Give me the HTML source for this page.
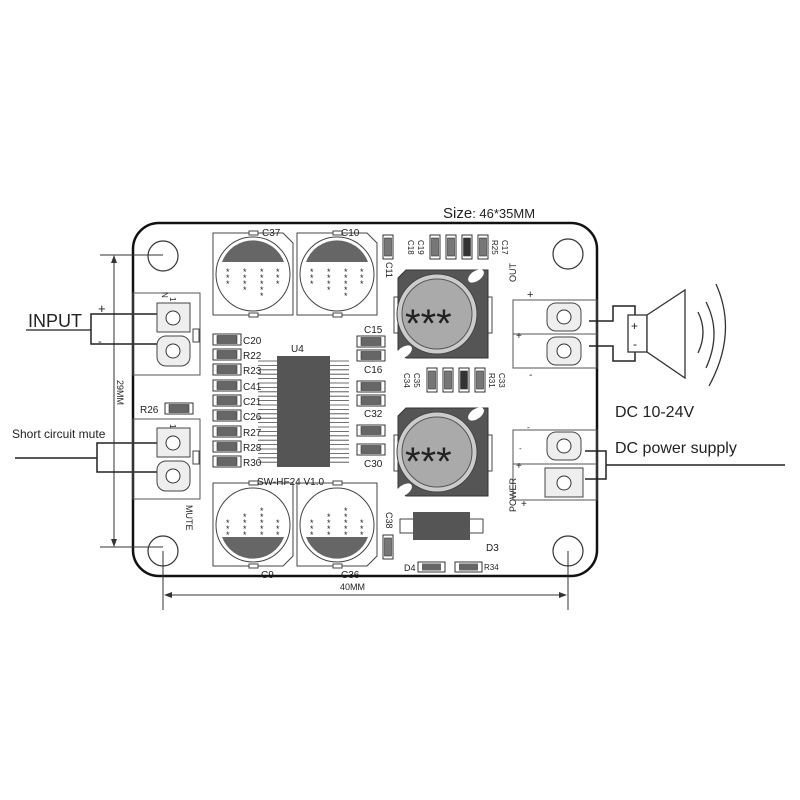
<!DOCTYPE html>
<html><head><meta charset="utf-8"><style>
html,body{margin:0;padding:0;background:#fff}
svg{display:block}
text{font-family:"Liberation Sans",sans-serif;fill:#222}
</style></head><body>
<svg width="800" height="800" viewBox="0 0 800 800" xmlns="http://www.w3.org/2000/svg">
<defs>
<g id="rh"><rect x="0" y="0" width="28" height="11" fill="#fff" stroke="#333" stroke-width="1"/><rect x="4" y="1.5" width="20" height="8" fill="#666" stroke="#333" stroke-width="0.6"/></g>
<g id="rv"><rect x="0" y="0" width="10" height="24" fill="#fff" stroke="#333" stroke-width="1"/><rect x="1.5" y="3" width="7" height="18" fill="#777" stroke="#333" stroke-width="0.6"/></g>
</defs>

<text x="443" y="218" font-size="15">Size<tspan font-size="13">:  46*35MM</tspan></text>

<rect x="133" y="223" width="464" height="353" rx="26" fill="#fff" stroke="#111" stroke-width="2.5"/>

<g fill="none" stroke="#333" stroke-width="1.2">
<circle cx="163" cy="256" r="15"/><circle cx="568" cy="254" r="15"/>
<circle cx="163" cy="551" r="15"/><circle cx="568" cy="551" r="15"/>
</g>

<g stroke="#333" stroke-width="1" fill="none">
<line x1="100" y1="255" x2="163" y2="255"/><line x1="100" y1="547" x2="163" y2="547"/>
<line x1="114" y1="258" x2="114" y2="544"/>
<line x1="163" y1="551" x2="163" y2="610"/><line x1="568" y1="551" x2="568" y2="610"/>
<line x1="166" y1="595" x2="565" y2="595"/>
</g>
<polygon points="114,255 111,263 117,263" fill="#333"/><polygon points="114,547 111,539 117,539" fill="#333"/>
<polygon points="164,595 172,592 172,598" fill="#333"/><polygon points="567,595 559,592 559,598" fill="#333"/>
<text x="0" y="0" font-size="9" transform="translate(117,380) rotate(90)">29MM</text>
<text x="340" y="590" font-size="9">40MM</text>

<text x="28" y="327" font-size="18">INPUT</text>
<line x1="26" y1="330" x2="91" y2="330" stroke="#222" stroke-width="1.3"/>
<g stroke="#222" stroke-width="1.5" fill="none">
<polyline points="172,314 91,314 91,344 172,344"/>
<polyline points="15,458 97,458"/>
<polyline points="172,443 97,443 97,472 172,472"/>
</g>
<text x="98" y="313" font-size="13">+</text><text x="98" y="345" font-size="11">-</text>
<text x="12" y="438" font-size="12">Short circuit mute</text>

<rect x="133" y="293" width="67" height="82" fill="none" stroke="#555" stroke-width="1"/>
<rect x="157" y="303" width="33" height="29" fill="#eee" stroke="#444" stroke-width="1"/>
<circle cx="173" cy="318" r="7" fill="#fff" stroke="#333"/>
<rect x="157" y="336" width="33" height="30" rx="9" fill="#eee" stroke="#444"/>
<circle cx="173" cy="351" r="7" fill="#fff" stroke="#333"/>
<rect x="193" y="329" width="6" height="13" fill="#fff" stroke="#444"/>
<text x="0" y="0" font-size="8" transform="translate(162,292) rotate(90)">N</text>
<text x="0" y="0" font-size="8" transform="translate(170,297) rotate(90)">1</text>

<text x="140" y="413" font-size="10">R26</text>
<use href="#rh" x="165" y="403"/>
<rect x="133" y="419" width="67" height="80" fill="none" stroke="#555" stroke-width="1"/>
<rect x="157" y="428" width="33" height="29" fill="#eee" stroke="#444"/>
<circle cx="173" cy="443" r="7" fill="#fff" stroke="#333"/>
<rect x="157" y="461" width="33" height="30" rx="9" fill="#eee" stroke="#444"/>
<circle cx="173" cy="476" r="7" fill="#fff" stroke="#333"/>
<rect x="193" y="451" width="6" height="13" fill="#fff" stroke="#444"/>
<text x="0" y="0" font-size="8" transform="translate(170,424) rotate(90)">1</text>
<text x="0" y="0" font-size="9" transform="translate(186,505) rotate(90)">MUTE</text>

<g stroke="#444" stroke-width="1" fill="#fff">
<polygon points="213,233 283,233 293,243 293,315 213,315"/>
<polygon points="297,233 367,233 377,243 377,315 297,315"/>
<polygon points="213,483 293,483 293,556 283,566 213,566"/>
<polygon points="297,483 377,483 377,556 367,566 297,566"/>
</g>
<g stroke="#444" stroke-width="1" fill="#fff">
<circle cx="253" cy="274" r="37"/><circle cx="337" cy="274" r="37"/>
<circle cx="253" cy="525" r="37"/><circle cx="337" cy="525" r="37"/>
<rect x="249" y="231" width="9" height="4"/><rect x="333" y="231" width="9" height="4"/>
<rect x="249" y="313" width="9" height="4"/><rect x="333" y="313" width="9" height="4"/>
<rect x="249" y="481" width="9" height="4"/><rect x="333" y="481" width="9" height="4"/>
<rect x="249" y="564" width="9" height="4"/><rect x="333" y="564" width="9" height="4"/>
</g>
<path d="M222,262 A33,33 0 0 1 284,262 Z" fill="#666"/>
<path d="M306,262 A33,33 0 0 1 368,262 Z" fill="#666"/>
<path d="M222,537 A33,33 0 0 0 284,537 Z" fill="#666"/>
<path d="M306,537 A33,33 0 0 0 368,537 Z" fill="#666"/>
<g font-size="9" fill="#333">
<text x="226" y="275">*</text><text x="226" y="281">*</text><text x="226" y="287">*</text>
<text x="243" y="275">*</text><text x="243" y="281">*</text><text x="243" y="287">*</text><text x="243" y="293">*</text>
<text x="260" y="275">*</text><text x="260" y="281">*</text><text x="260" y="287">*</text><text x="260" y="293">*</text><text x="260" y="299">*</text>
<text x="276" y="275">*</text><text x="276" y="281">*</text><text x="276" y="287">*</text>
<text x="310" y="275">*</text><text x="310" y="281">*</text><text x="310" y="287">*</text>
<text x="327" y="275">*</text><text x="327" y="281">*</text><text x="327" y="287">*</text><text x="327" y="293">*</text>
<text x="344" y="275">*</text><text x="344" y="281">*</text><text x="344" y="287">*</text><text x="344" y="293">*</text><text x="344" y="299">*</text>
<text x="360" y="275">*</text><text x="360" y="281">*</text><text x="360" y="287">*</text>
<text x="226" y="526">*</text><text x="226" y="532">*</text><text x="226" y="538">*</text>
<text x="243" y="520">*</text><text x="243" y="526">*</text><text x="243" y="532">*</text><text x="243" y="538">*</text>
<text x="260" y="514">*</text><text x="260" y="520">*</text><text x="260" y="526">*</text><text x="260" y="532">*</text><text x="260" y="538">*</text>
<text x="276" y="526">*</text><text x="276" y="532">*</text><text x="276" y="538">*</text>
<text x="310" y="526">*</text><text x="310" y="532">*</text><text x="310" y="538">*</text>
<text x="327" y="520">*</text><text x="327" y="526">*</text><text x="327" y="532">*</text><text x="327" y="538">*</text>
<text x="344" y="514">*</text><text x="344" y="520">*</text><text x="344" y="526">*</text><text x="344" y="532">*</text><text x="344" y="538">*</text>
<text x="360" y="526">*</text><text x="360" y="532">*</text><text x="360" y="538">*</text>
</g>
<g font-size="10">
<text x="262" y="236">C37</text><text x="341" y="236">C10</text>
<text x="261" y="578">C9</text><text x="341" y="578">C36</text>
</g>

<use href="#rv" x="383" y="235"/>
<text x="0" y="0" font-size="9" transform="translate(386,262) rotate(90)">C11</text>
<use href="#rv" x="430" y="235"/><use href="#rv" x="446" y="235"/><use href="#rv" x="462" y="235"/><use href="#rv" x="478" y="235"/>
<rect x="463.5" y="238" width="7" height="18" fill="#333"/>
<g font-size="8">
<text transform="translate(408,240) rotate(90)">C18</text><text transform="translate(418,240) rotate(90)">C19</text>
<text transform="translate(492,240) rotate(90)">R25</text><text transform="translate(502,240) rotate(90)">C17</text>
</g>

<g>
<g id="ind">
<rect x="394" y="297" width="6" height="36" fill="#fff" stroke="#444"/>
<rect x="486" y="297" width="6" height="36" fill="#fff" stroke="#444"/>
<polygon points="406,270 488,270 488,358 406,358 398,350 398,278" fill="#555" stroke="#333"/>
<ellipse cx="476" cy="276" rx="9" ry="5" transform="rotate(-35 476 276)" fill="#fff"/>
<ellipse cx="404" cy="352" rx="9" ry="5" transform="rotate(-35 404 352)" fill="#fff"/>
<circle cx="437" cy="314" r="40" fill="#ccc" stroke="#444"/>
<circle cx="437" cy="314" r="35" fill="#aaa" stroke="#555"/>
<text x="405" y="337" font-size="40" fill="#222">***</text>
</g>
<use href="#ind" y="138"/>
</g>

<use href="#rv" x="427" y="368"/><use href="#rv" x="443" y="368"/><use href="#rv" x="459" y="368"/><use href="#rv" x="475" y="368"/>
<rect x="460.5" y="371" width="7" height="18" fill="#333"/>
<g font-size="8">
<text transform="translate(404,373) rotate(90)">C34</text><text transform="translate(414,373) rotate(90)">C35</text>
<text transform="translate(489,373) rotate(90)">R31</text><text transform="translate(499,373) rotate(90)">C33</text>
</g>

<g stroke="#444" stroke-width="0.8">
<path d="M258,361H277M258,365.4H277M258,369.8H277M258,374.2H277M258,378.6H277M258,383H277M258,387.4H277M258,391.8H277M258,396.2H277M258,400.6H277M258,405H277M258,409.4H277M258,413.8H277M258,418.2H277M258,422.6H277M258,427H277M258,431.4H277M258,435.8H277M258,440.2H277M258,444.6H277M258,449H277M258,453.4H277M258,457.8H277M258,462.2H277"/>
<path d="M330,361H349M330,365.4H349M330,369.8H349M330,374.2H349M330,378.6H349M330,383H349M330,387.4H349M330,391.8H349M330,396.2H349M330,400.6H349M330,405H349M330,409.4H349M330,413.8H349M330,418.2H349M330,422.6H349M330,427H349M330,431.4H349M330,435.8H349M330,440.2H349M330,444.6H349M330,449H349M330,453.4H349M330,457.8H349M330,462.2H349"/>
</g>
<rect x="277" y="356" width="53" height="111" fill="#555"/>
<text x="291" y="352" font-size="10">U4</text>
<text x="257" y="485" font-size="10">SW-HF24 V1.0</text>

<use href="#rh" x="213" y="334"/><use href="#rh" x="213" y="349"/><use href="#rh" x="213" y="364"/>
<use href="#rh" x="213" y="380"/><use href="#rh" x="213" y="395"/><use href="#rh" x="213" y="410"/>
<use href="#rh" x="213" y="426"/><use href="#rh" x="213" y="441"/><use href="#rh" x="213" y="456"/>
<g font-size="10">
<text x="243" y="344">C20</text><text x="243" y="359">R22</text><text x="243" y="374">R23</text>
<text x="243" y="390">C41</text><text x="243" y="405">C21</text><text x="243" y="420">C26</text>
<text x="243" y="436">R27</text><text x="243" y="451">R28</text><text x="243" y="466">R30</text>
</g>
<use href="#rh" x="357" y="336"/><use href="#rh" x="357" y="350"/>
<use href="#rh" x="357" y="381"/><use href="#rh" x="357" y="395"/>
<use href="#rh" x="357" y="425"/><use href="#rh" x="357" y="444"/>
<g font-size="10">
<text x="364" y="333">C15</text><text x="364" y="373">C16</text>
<text x="364" y="417">C32</text><text x="364" y="467">C30</text>
</g>

<use href="#rv" x="383" y="535"/>
<text font-size="9" transform="translate(386,512) rotate(90)">C38</text>
<rect x="400" y="519" width="14" height="14" fill="#fff" stroke="#444"/>
<rect x="469" y="519" width="14" height="14" fill="#fff" stroke="#444"/>
<rect x="413" y="512" width="57" height="28" fill="#555"/>
<text x="486" y="551" font-size="10">D3</text>
<text x="404" y="571" font-size="9">D4</text>
<rect x="418" y="562" width="27" height="10" fill="#fff" stroke="#333"/><rect x="422" y="563.5" width="19" height="7" fill="#666"/>
<rect x="455" y="562" width="27" height="10" fill="#fff" stroke="#333"/><rect x="459" y="563.5" width="19" height="7" fill="#666"/>
<text x="484" y="570" font-size="8">R34</text>

<rect x="513" y="300" width="84" height="68" fill="none" stroke="#555"/>
<line x1="513" y1="334" x2="597" y2="334" stroke="#555"/>
<rect x="547" y="303" width="34" height="28" rx="9" fill="#eee" stroke="#444"/>
<circle cx="564" cy="317" r="7" fill="#fff" stroke="#333"/>
<rect x="547" y="337" width="34" height="28" rx="9" fill="#eee" stroke="#444"/>
<circle cx="564" cy="351" r="7" fill="#fff" stroke="#333"/>
<text font-size="9" transform="translate(516,282) rotate(-90)">OUT</text>
<text x="527" y="298" font-size="11">+</text>
<text x="516" y="339" font-size="10">+</text>
<text x="529" y="378" font-size="10">-</text>

<rect x="513" y="430" width="84" height="70" fill="none" stroke="#555"/>
<line x1="513" y1="464" x2="597" y2="464" stroke="#555"/>
<rect x="547" y="432" width="34" height="28" rx="9" fill="#eee" stroke="#444"/>
<circle cx="564" cy="446" r="7" fill="#fff" stroke="#333"/>
<rect x="545" y="468" width="38" height="29" fill="#eee" stroke="#444"/>
<circle cx="564" cy="483" r="7" fill="#fff" stroke="#333"/>
<text font-size="9" transform="translate(516,512) rotate(-90)">POWER</text>
<text x="516" y="469" font-size="10">+</text>
<text x="521" y="507" font-size="10">+</text>
<text x="519" y="451" font-size="8">-</text>
<text x="527" y="430" font-size="8">-</text>

<g stroke="#222" stroke-width="1.5" fill="none">
<polyline points="589,321 613,321 613,306 635,306 635,315"/>
<polyline points="589,346 613,346 613,361 635,361 635,352"/>
<polyline points="585,451 606,451 606,479 585,479"/>
<line x1="606" y1="465" x2="785" y2="465"/>
</g>
<rect x="628" y="315" width="19" height="37" fill="#fff" stroke="#333" stroke-width="1.3"/>
<text x="631" y="330" font-size="12">+</text><text x="633" y="348" font-size="12">-</text>
<polygon points="647,315 685,290 685,378 647,352" fill="#fff" stroke="#333" stroke-width="1.3"/>
<g fill="none" stroke="#333" stroke-width="1.3">
<path d="M698,312 Q708,332 698,353"/>
<path d="M706,302 Q722,333 706,368"/>
<path d="M716,284 Q738,333 709,386"/>
</g>
<text x="615" y="417" font-size="16">DC 10-24V</text>
<text x="615" y="453" font-size="16">DC power supply</text>
</svg>
</body></html>
